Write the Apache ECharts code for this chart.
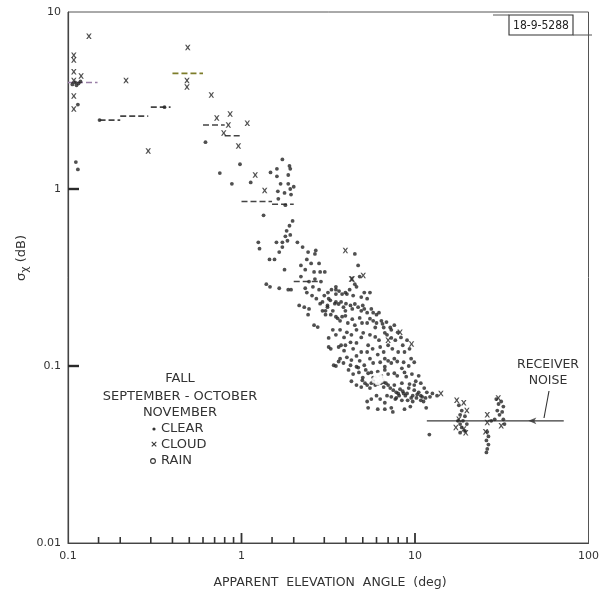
<!DOCTYPE html>
<html><head><meta charset="utf-8">
<script src="https://cdn.jsdelivr.net/npm/echarts@6/dist/echarts.min.js"></script>
<style>html,body{margin:0;padding:0;background:#fff}#c{width:602px;height:595px}</style>
</head><body><div id="c"></div><script>
// [elevation angle (deg), sigma_chi (dB)]
const clearPts = [
[0.114,3.0],[0.152,2.45],[0.36,2.9],[0.111,1.42],[0.114,1.29],[0.62,1.84],[0.75,1.23],[0.98,1.38],[0.88,1.07],[1.13,1.09],
[0.11,4.0],[0.112,3.85],[0.115,3.95],[0.106,3.9],[0.118,4.05],
[1.47,1.24],[1.6,1.3],[1.72,1.47],[1.89,1.35],[1.91,1.3],[1.6,1.18],[1.86,1.2],[1.68,1.07],[1.86,1.07],[2.0,1.03],[1.62,0.97],[1.91,1.0],[1.77,0.95],[1.93,0.93],[1.63,0.88],[1.79,0.81],[1.34,0.71],[1.97,0.66],[1.89,0.62],[1.82,0.58],[1.91,0.55],[1.79,0.54],[1.25,0.5],[1.59,0.5],[1.72,0.5],[1.84,0.51],[1.72,0.47],[1.27,0.46],[1.65,0.44],[1.45,0.4],[1.55,0.4],[1.77,0.35],[1.39,0.29],[1.46,0.28],[1.65,0.275],[1.86,0.27],[1.93,0.27],
[2.42,0.44],[2.68,0.45],[2.65,0.43],[2.38,0.4],[2.52,0.38],[2.8,0.38],[2.2,0.37],[2.33,0.35],[2.62,0.34],[2.84,0.34],[3.02,0.34],[2.2,0.32],[2.45,0.3],[2.65,0.31],[2.87,0.3],[2.33,0.275],[2.58,0.28],[2.8,0.27],[2.38,0.26],[2.55,0.25],[2.15,0.22],[2.3,0.215],[2.45,0.21],[2.84,0.225],[3.15,0.26],[3.5,0.27],[3.5,0.255],[3.18,0.24],[3.8,0.255],[2.93,0.205],[3.13,0.215],[3.05,0.195],[3.27,0.195],[3.5,0.19],[3.8,0.19],[2.42,0.195],
[4.5,0.43],[4.7,0.37],[4.8,0.32],[4.5,0.29],[3.5,0.28],[4.05,0.255],[3.97,0.26],[4.6,0.28],[5.1,0.26],[5.5,0.26],[2.93,0.23],[3.13,0.22],[3.36,0.205],[3.63,0.224],[3.87,0.215],[4.25,0.22],[4.5,0.224],[4.9,0.205],[5.3,0.2],[5.74,0.2],[3.58,0.186],[3.97,0.192],[4.35,0.184],[4.8,0.187],[5.3,0.175],[5.9,0.165],[6.4,0.18],[6.85,0.177],[2.62,0.17],[2.75,0.166],[3.36,0.16],[3.7,0.16],[4.05,0.155],[4.6,0.16],[5.03,0.154],[5.9,0.146],[6.7,0.154],[7.3,0.144],[7.95,0.155],[3.18,0.144],[3.63,0.128],[3.18,0.128],[4.25,0.136],[4.6,0.135],[5.37,0.131],[6.3,0.128],[7.0,0.131],[8.5,0.131],[4.05,0.112],[4.6,0.114],[5.3,0.12],[6.1,0.116],[6.7,0.11],[7.6,0.11],[8.7,0.12],[3.5,0.1],[3.87,0.104],[4.6,0.099],[5.1,0.101],[5.74,0.104],[6.7,0.099],[7.3,0.104],[8.4,0.097],[9.2,0.1],[9.9,0.105],[5.0,0.086],[5.37,0.091],[5.74,0.086],[6.4,0.086],[6.7,0.095],[7.6,0.091],[8.7,0.092],[4.6,0.078],[4.9,0.076],[9.9,0.078],[10.8,0.08],
[3.27,0.125],[3.75,0.131],[3.97,0.131],[3.4,0.101],[3.63,0.106],[4.25,0.101],[4.14,0.095],[4.71,0.098],[4.97,0.083],[5.15,0.08],[5.5,0.075],[5.9,0.078],[5.6,0.065],[5.3,0.063],[6.7,0.062],[7.3,0.067],[7.8,0.071],[8.5,0.072],[9.2,0.075],[9.9,0.073],[10.5,0.071],[8.4,0.064],[9.07,0.064],[9.7,0.063],[11.2,0.063],[12.2,0.067],[13.4,0.068],[6.7,0.057],[7.3,0.058],[8.7,0.057],[9.4,0.059],[11.6,0.058],[6.1,0.057],[7.45,0.055],[5.37,0.058],[12.1,0.041],
[6.0,0.085],[6.2,0.082],[5.9,0.08],[6.3,0.086],[6.1,0.079],[6.5,0.083],[5.8,0.084],[6.8,0.08],[7.0,0.078],[7.2,0.075],[7.5,0.073],[8.0,0.07],[8.2,0.074],[8.8,0.068],[9.5,0.066],[10.2,0.066],[10.8,0.064],
[3.05,0.205],[3.5,0.23],[3.97,0.205],[5.1,0.21],[5.74,0.18],[6.5,0.173],[7.3,0.16],
[2.1,0.5],[2.25,0.47],
[3.3,0.27],[3.65,0.265],[4.2,0.27],[4.4,0.25],[4.9,0.245],[5.3,0.24],[3.0,0.25],[2.7,0.24],
[3.25,0.235],[3.45,0.225],[3.75,0.23],[4.0,0.225],[4.35,0.21],[4.7,0.215],[5.0,0.22],[5.6,0.21],[6.0,0.195],[6.2,0.2],
[3.7,0.18],[4.1,0.175],[4.5,0.17],[4.95,0.175],[5.5,0.185],[6.0,0.175],[6.6,0.165],[7.2,0.165],[7.6,0.17],
[3.5,0.15],[3.9,0.145],[4.3,0.15],[4.9,0.145],[5.5,0.15],[6.2,0.14],[6.9,0.15],[7.7,0.14],[8.3,0.145],[9.0,0.14],
[3.9,0.122],[4.4,0.125],[4.9,0.12],[5.7,0.125],[6.6,0.12],[7.4,0.125],[8.0,0.12],[9.3,0.125],
[3.7,0.11],[4.3,0.108],[4.8,0.107],[5.5,0.11],[6.3,0.105],[7.0,0.107],[7.9,0.106],[8.6,0.105],[9.5,0.11],
[4.4,0.09],[4.75,0.092],[5.2,0.095],[5.6,0.092],[6.1,0.093],[7.0,0.09],[7.9,0.088],[8.9,0.087],[9.6,0.09],[10.5,0.088],
[4.3,0.082],[5.3,0.078],[5.6,0.08],[6.6,0.076],[7.6,0.078],[8.4,0.08],[9.3,0.079],[10.1,0.082],[11.3,0.075],
[6.0,0.068],[6.3,0.065],[6.9,0.068],[7.7,0.065],[10.8,0.068],[11.7,0.071],[12.6,0.07],
[5.95,0.083],[6.15,0.084],[6.05,0.087],[6.35,0.08],[5.75,0.082],[6.4,0.088],[6.6,0.081],
[7.8,0.066],[8.1,0.068],[8.6,0.07],[9.0,0.07],[9.7,0.068],[10.3,0.069],[11.0,0.067],[11.5,0.066],
[17.9,0.06],[18.6,0.056],[18.2,0.053],[19.4,0.052],[17.7,0.049],[18.9,0.049],[19.9,0.047],[18.2,0.047],[18.6,0.045],[19.4,0.043],[18.2,0.042],
[29.4,0.065],[31.4,0.063],[30.3,0.061],[32.3,0.059],[29.8,0.056],[31.8,0.055],[30.7,0.053],[28.8,0.05],[27.5,0.049],[32.3,0.05],[32.8,0.047],
[26.1,0.0425],[26.5,0.04],[25.8,0.038],[26.5,0.036],[26.1,0.034],[25.8,0.0325]
];
const cloudPts = [
[0.132,7.3],[0.49,6.3],[0.108,5.7],[0.108,5.35],[0.108,4.6],[0.119,4.35],[0.108,4.1],[0.216,4.1],[0.485,4.1],[0.485,3.77],
[0.67,3.4],[0.108,3.35],[0.108,2.83],[0.72,2.52],[0.86,2.65],[0.84,2.3],[1.08,2.35],[0.79,2.07],[0.96,1.75],[0.29,1.64],
[1.2,1.2],[1.36,0.98],[3.97,0.45],[4.3,0.31],[5.03,0.325],[4.35,0.31],[9.55,0.133],[8.2,0.155],[7.0,0.14],[14.1,0.07],
[17.4,0.064],[19.1,0.062],[19.9,0.056],[17.9,0.05],[19.1,0.044],[17.2,0.045],[19.6,0.042],
[26.1,0.053],[26.1,0.048],[31.4,0.046],[25.5,0.0425],[30.2,0.066]
];
const rainPts = [[6.0,0.086],[6.3,0.083],[6.1,0.081],[5.85,0.083],[6.5,0.085],[6.2,0.088]];
// median segments: [from angle, to angle, sigma]
const medianSegs = [
[0.1,0.148,4.0],[0.152,0.2,2.45],[0.2,0.29,2.58],[0.3,0.39,2.9],[0.4,0.6,4.5],
[0.6,0.8,2.3],[0.8,1.0,2.0],[1.0,1.5,0.85],[1.5,2.0,0.82],[2.0,2.8,0.3]
];
const medianColors = ['#9a80a8','#444','#444','#444','#7d7d2a','#444','#444','#444','#444','#444'];
const noiseLevel = 0.049;
const noiseRange = [11.7, 72];
const noiseArrowAt = 45;
const xMajorTicks = [1, 10];
const xMinorTicks = [0.15,0.2,0.3,0.4,0.5,0.6,0.7,0.8,0.9,1.5,2,3,4,5,6,7,8,9];
const yMajorTicks = [0.1, 1];
const xLabels = ['0.1','1','10','100'];
const yLabels = ['0.01','0.1','1','10'];
const X_MIN = 0.1, Y_MIN = 0.01, Y_MAX = 10;

const GRID = {left:68, top:12, right:5, bottom:52};
const chart = echarts.init(document.getElementById('c'), null, {renderer:'canvas'});
const FONT = 'DejaVu Sans';
const fmt = v => parseFloat(Number(v).toPrecision(6)).toString();
const tickStep = px => Math.pow(10, px / 177);

const series = [];
medianSegs.forEach((s,i) => {
  series.push({type:'line', data:[[s[0],s[2]],[s[1],s[2]]], symbol:'none', silent:true,
    lineStyle:{color:medianColors[i], width:1.6, type:[6,3]}, z:3});
});
series.push({type:'line', data:[[noiseRange[0],noiseLevel],[noiseRange[1],noiseLevel]], symbol:'none', silent:true,
  lineStyle:{color:'#3a3a3a', width:1.2}, z:3});
series.push({type:'scatter', data:[[noiseArrowAt,noiseLevel]], symbol:'arrow', symbolRotate:90, symbolSize:[5,8],
  itemStyle:{color:'#333'}, silent:true, z:4});
series.push({type:'scatter', name:'CLEAR', data:clearPts, symbol:'circle', symbolSize:3.8,
  itemStyle:{color:'#242424'}, z:5});
series.push({type:'scatter', name:'CLOUD', data:cloudPts,
  symbol:'path://M0,0L2.6,0L5,3.3L7.4,0L10,0L6.5,5L10,10L7.4,10L5,6.7L2.6,10L0,10L3.5,5Z',
  symbolSize:5.5, itemStyle:{color:'#262626'}, z:5});
series.push({type:'scatter', name:'RAIN', data:rainPts, symbol:'emptyCircle', symbolSize:4.5,
  itemStyle:{color:'#fff', borderColor:'#2a2a2a', borderWidth:1.2}, z:6});
const tickLine = (data, w) => ({type:'line', data:data, symbol:'none', silent:true, clip:false,
  lineStyle:{color:'#333', width:w}, z:7});
xMinorTicks.forEach(v => series.push(tickLine([[v, Y_MIN], [v, Y_MIN * tickStep(6)]], 1.6)));
xMajorTicks.forEach(v => series.push(tickLine([[v, Y_MIN], [v, Y_MIN * tickStep(10)]], 1.8)));

const txt = (x, y, text, extra) => ({type:'text', x:x, y:y, style:Object.assign({text:text, font:'13px "DejaVu Sans"', fill:'#333', align:'center', verticalAlign:'middle'}, extra || {})});

chart.setOption({
  animation:false,
  backgroundColor:'#fff',
  grid:{left:GRID.left, top:GRID.top, right:GRID.right, bottom:GRID.bottom, show:true, borderColor:'#555', borderWidth:1},
  xAxis:{type:'log', logBase:10, min:0.1, max:100,
    axisLine:{lineStyle:{color:'#444', width:1.2}},
    axisTick:{show:false},
    axisLabel:{color:'#333', fontFamily:FONT, fontSize:11, margin:8, formatter: v => { const s = fmt(v); return xLabels.includes(s) ? s : ''; }},
    splitLine:{show:false}},
  yAxis:{type:'log', logBase:10, min:Y_MIN, max:Y_MAX,
    axisLine:{lineStyle:{color:'#444', width:1.2}},
    axisTick:{show:false},
    axisLabel:{color:'#333', fontFamily:FONT, fontSize:11, margin:7, formatter: v => { const s = fmt(v); return yLabels.includes(s) ? s : ''; }},
    splitLine:{show:false}},
  series: series
});

// y-axis major ticks: positions taken from the y axis' own scale
const plotH = 595 - GRID.top - GRID.bottom;
const yTickGraphics = yMajorTicks.map(v => {
  let py = chart.convertToPixel({yAxisIndex:0}, v);
  if (!isFinite(py)) {
    py = GRID.top + plotH * (1 - (Math.log10(v) - Math.log10(Y_MIN)) / (Math.log10(Y_MAX) - Math.log10(Y_MIN)));
  }
  return {type:'rect', z:100, shape:{x:GRID.left, y:py - 1.2, width:11, height:2.4}, style:{fill:'#2a2a2a'}};
});

chart.setOption({graphic: [
  txt(330, 583, 'APPARENT  ELEVATION  ANGLE  (deg)', {font:'12.5px "DejaVu Sans"'}),
  {type:'text', x:22, y:258, rotation:Math.PI/2, style:{text:'{s|σ}{sub|χ}{s| (dB)}', align:'center', verticalAlign:'middle', fill:'#333',
    rich:{s:{font:'13px "DejaVu Sans"', fill:'#333'}, sub:{font:'11px "DejaVu Sans"', fill:'#333', padding:[6,0,0,0]}}}},
  txt(180, 379, 'FALL'),
  txt(180, 397, 'SEPTEMBER - OCTOBER'),
  txt(180, 413, 'NOVEMBER'),
  {type:'circle', shape:{cx:154, cy:429, r:1.6}, style:{fill:'#333'}},
  txt(161, 429, 'CLEAR', {align:'left'}),
  txt(154, 445, '×', {font:'bold 9px "DejaVu Sans"'}),
  txt(161, 445, 'CLOUD', {align:'left'}),
  {type:'circle', shape:{cx:153, cy:461, r:2.4}, style:{fill:'#fff', stroke:'#333', lineWidth:1.1}},
  txt(161, 461, 'RAIN', {align:'left'}),
  txt(548, 365, 'RECEIVER', {font:'12.5px "DejaVu Sans"'}),
  txt(548, 381, 'NOISE', {font:'12.5px "DejaVu Sans"'}),
  {type:'line', shape:{x1:549, y1:391, x2:544, y2:418}, style:{stroke:'#333', lineWidth:1.1}},
  {type:'rect', shape:{x:509, y:15, width:64, height:20}, style:{fill:'#fff', stroke:'#333', lineWidth:1.1}},
  txt(541, 25.5, '18-9-5288', {font:'12px "DejaVu Sans Condensed", "Liberation Sans Narrow", sans-serif', fill:'#222'}),
  {type:'line', shape:{x1:493, y1:15, x2:509, y2:15}, style:{stroke:'#555', lineWidth:1}},
  {type:'line', shape:{x1:573, y1:35, x2:592, y2:35}, style:{stroke:'#555', lineWidth:1}}
].concat(yTickGraphics)});
</script></body></html>
